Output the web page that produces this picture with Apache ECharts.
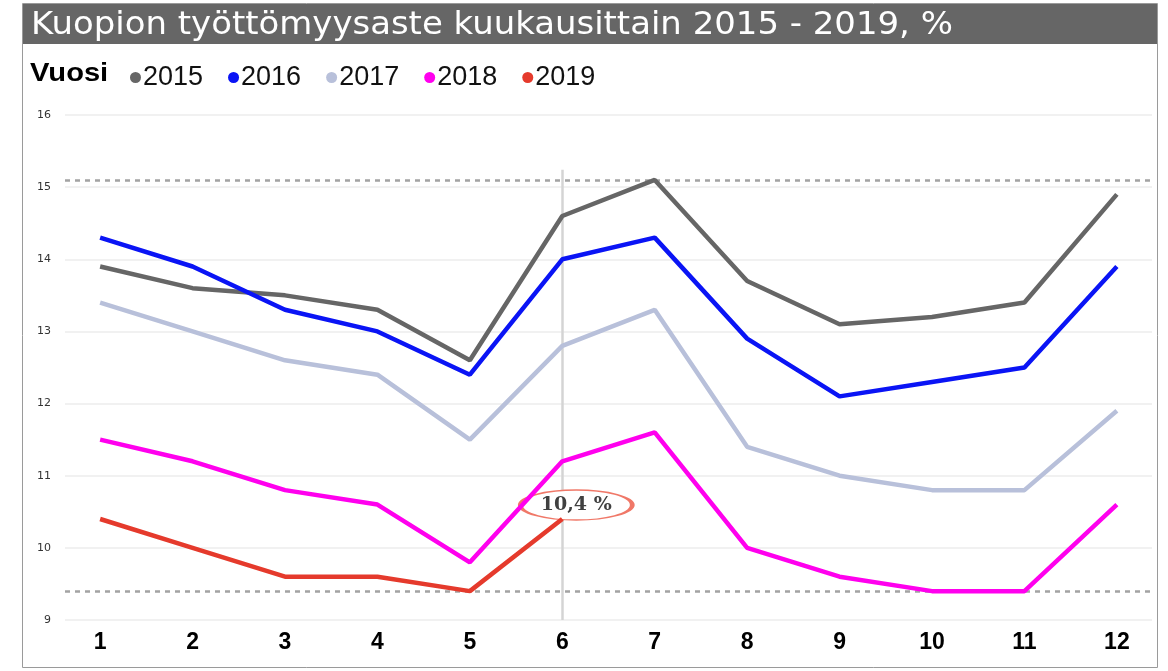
<!DOCTYPE html>
<html><head><meta charset="utf-8">
<script src="https://cdn.jsdelivr.net/npm/echarts@6/dist/echarts.min.js"></script>
<style>html,body{margin:0;padding:0;background:#fff;}#c{width:1168px;height:671px;}</style>
</head><body><div id="c"></div>
<script>
var titleText = 'Kuopion työttömyysaste kuukausittain 2015 - 2019, %';
var legendTitle = 'Vuosi';
var months = [1,2,3,4,5,6,7,8,9,10,11,12];
var years = ['2015','2016','2017','2018','2019'];
var v2015 = [13.9,13.6,13.5,13.3,12.6,14.6,15.1,13.7,13.1,13.2,13.4,14.9];
var v2016 = [14.3,13.9,13.3,13.0,12.4,14.0,14.3,12.9,12.1,12.3,12.5,13.9];
var v2017 = [13.4,13.0,12.6,12.4,11.5,12.8,13.3,11.4,11.0,10.8,10.8,11.9];
var v2018 = [11.5,11.2,10.8,10.6,9.8,11.2,11.6,10.0,9.6,9.4,9.4,10.6];
var v2019 = [10.4,10.0,9.6,9.6,9.4,10.4];
var yTicks = [9,10,11,12,13,14,15,16];
var refMax = 15.1, refMin = 9.4;
var markMonth = 6;
var calloutText = '10,4 %';
var colors = ['#666666','#0a14f5','#b8c0da','#ff00ee','#e53a2c'];

var allVals = [v2015,v2016,v2017,v2018,v2019];
function pairs(arr){ return arr.map(function(v,i){ return [months[i], v]; }); }

var series = years.map(function(y, k){
  return {
    name: y, type: 'line', data: pairs(allVals[k]),
    symbol: 'none', smooth: false, z: 3 + k,
    lineStyle: {color: colors[k], width: 4.5},
    itemStyle: {color: colors[k]}
  };
});
// dummy series holding reference lines (drawn under data lines)
series.push({
  name: 'ref', type: 'line', data: [], z: 1, silent: true,
  markLine: {
    silent: true, symbol: 'none', label: {show: false}, z: 1,
    lineStyle: {color: '#a3a3a3', type: [5,5], width: 2.5},
    data: [{yAxis: refMax}, {yAxis: refMin}]
  }
});
series.push({
  name: 'vline', type: 'line', data: [], z: 1, silent: true,
  markLine: {
    silent: true, symbol: 'none', label: {show: false}, z: 1,
    lineStyle: {color: '#d4d4d4', type: 'solid', width: 2.5},
    data: [[{coord: [markMonth, 15.24]}, {coord: [markMonth, 9.0]}]]
  }
});
series[4].markPoint = {
  silent: true,
  data: [{coord: [markMonth, v2019[v2019.length-1]]}],
  symbol: 'circle', symbolSize: [112, 30], symbolOffset: [14, -14],
  itemStyle: {color: '#fff', borderColor: '#f07868', borderWidth: 2.5},
  label: {show: true, position: 'inside', formatter: calloutText,
    color: '#404040', fontSize: 19, fontWeight: 'bold', fontFamily: 'DejaVu Serif'}
};
series[4].z = 10;

var chart = echarts.init(document.getElementById('c'));
chart.setOption({
  animation: false,
  color: colors,
  graphic: [
    {type: 'rect', shape: {x: 22.5, y: 3.5, width: 1135, height: 664}, style: {fill: '#fff', stroke: '#9a9a9a', lineWidth: 1}, z: -10},
    {type: 'rect', shape: {x: 23, y: 4, width: 1134, height: 40}, style: {fill: '#666666'}, z: -5},
    {type: 'text', x: 31, y: 26, scaleX: 1.06, style: {text: titleText, fill: '#ffffff', font: '32px "DejaVu Sans"', verticalAlign: 'middle'}},
    {type: 'text', x: 30, y: 74, scaleX: 1.12, style: {text: legendTitle, fill: '#000', font: 'bold 26px "Liberation Sans"', verticalAlign: 'middle'}}
  ],
  legend: {
    left: 125, top: 59, itemGap: 25, itemWidth: 11, itemHeight: 11, icon: 'circle',
    textStyle: {fontSize: 27, color: '#111', fontFamily: 'Liberation Sans', padding: [0,0,0,-3]},
    data: years
  },
  grid: {left: 65, right: 16, top: 115, bottom: 51, containLabel: false},
  xAxis: {
    type: 'value', min: 0.62, max: 12.38,
    axisLine: {show: false}, axisTick: {show: false}, splitLine: {show: false},
    axisLabel: {customValues: months, color: '#000', fontSize: 23, fontWeight: 'bold',
      fontFamily: 'Liberation Sans', margin: 11, formatter: function(v){return String(v);}}
  },
  yAxis: {
    type: 'value', min: yTicks[0], max: yTicks[yTicks.length-1], interval: 1,
    axisLine: {show: false}, axisTick: {show: false},
    splitLine: {lineStyle: {color: '#ececec', width: 1.5}},
    axisLabel: {color: '#333', fontSize: 11, fontFamily: 'DejaVu Sans', margin: 14}
  },
  series: series
});
</script></body></html>
